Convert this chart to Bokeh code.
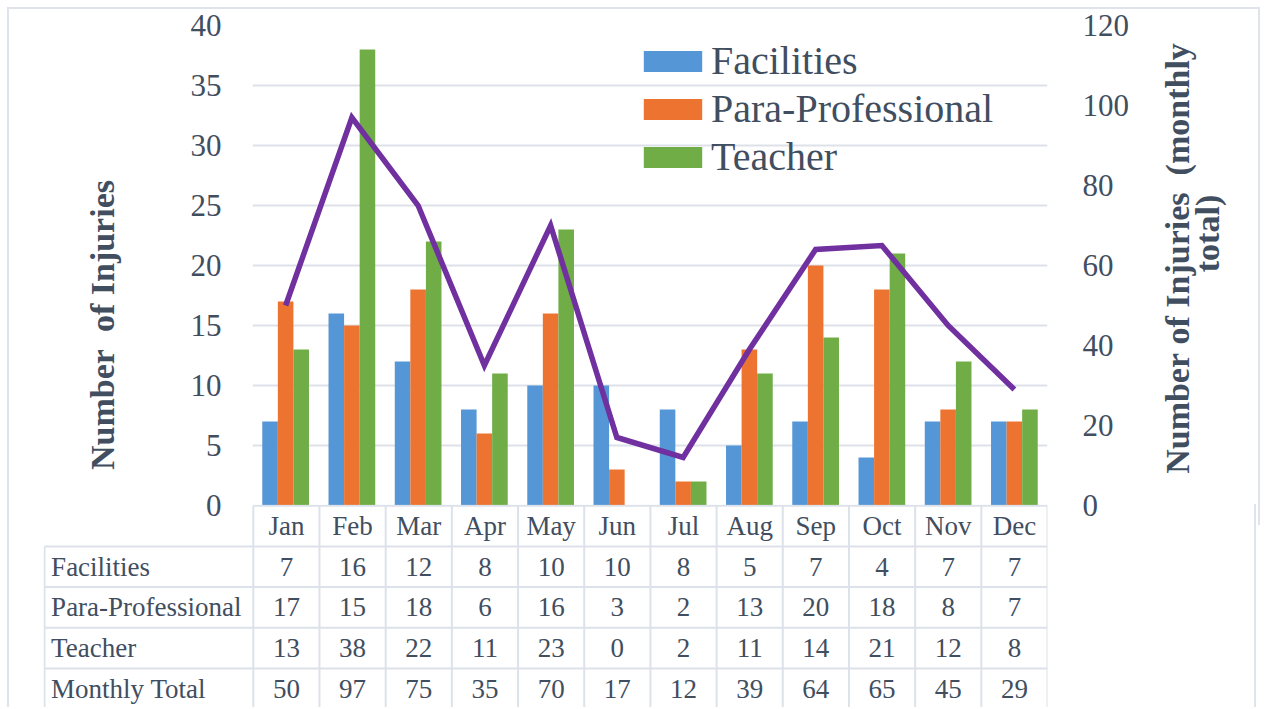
import math
from bokeh.plotting import figure
from bokeh.models import (FactorRange, Range1d, LinearAxis, FixedTicker, Legend,
                          LegendItem, ColumnDataSource)
from bokeh.transform import dodge
from bokeh.layouts import row
from bokeh.embed import file_html
from bokeh.resources import INLINE
from bokeh.core.properties import value

months = ["Jan", "Feb", "Mar", "Apr", "May", "Jun", "Jul", "Aug", "Sep", "Oct", "Nov", "Dec"]
facilities = [7, 16, 12, 8, 10, 10, 8, 5, 7, 4, 7, 7]
para_professional = [17, 15, 18, 6, 16, 3, 2, 13, 20, 18, 8, 7]
teacher = [13, 38, 22, 11, 23, 0, 2, 11, 14, 21, 12, 8]
monthly_total = [50, 97, 75, 35, 70, 17, 12, 39, 64, 65, 45, 29]
series_names = ["Facilities", "Para-Professional", "Teacher"]
row_labels = ["Facilities", "Para-Professional", "Teacher", "Monthly Total"]
left_ticks = [0, 5, 10, 15, 20, 25, 30, 35, 40]
right_ticks = [0, 20, 40, 60, 80, 100, 120]
right_title_lines = ["Number of Injuries  (monthly", "total)"]

SERIF = "Liberation Serif"
TXT = "#414e60"
GRID = "#dde2ea"
FRAME = "2px solid #dfe4ec"
colors = ["#5596d6", "#ec7430", "#70ad47"]
NB = "\u00a0"

src = ColumnDataSource(dict(month=months, fac=facilities, para=para_professional,
                            teach=teacher, total=monthly_total))

p = figure(width=1141, height=516, x_range=FactorRange(*months, range_padding=0),
           y_range=Range1d(0, 40), output_backend="svg", toolbar_location=None,
           x_axis_location=None, min_border_left=243, min_border_right=103,
           min_border_top=16, min_border_bottom=20, outline_line_color=None,
           background_fill_color="white", border_fill_color="white")
p.extra_y_ranges = {"total": Range1d(0, 120)}

p.xgrid.visible = False
p.ygrid.grid_line_color = GRID
p.ygrid.grid_line_width = 2
p.ygrid.ticker = FixedTicker(ticks=left_ticks)

ax = p.yaxis[0]
ax.ticker = FixedTicker(ticks=left_ticks)
ax.axis_line_color = None
ax.major_tick_line_color = None
ax.minor_tick_line_color = None
ax.major_label_standoff = 25
ax.major_label_text_font = SERIF
ax.major_label_text_font_size = "31px"
ax.major_label_text_color = TXT
ax.axis_label = "Number" + NB + NB + "of Injuries" + NB * 14
ax.axis_label_text_font = SERIF
ax.axis_label_text_font_size = "34px"
ax.axis_label_text_font_style = "bold"
ax.axis_label_text_color = TXT
ax.axis_label_standoff = 67

ax2 = LinearAxis(y_range_name="total", ticker=FixedTicker(ticks=right_ticks))
ax2.axis_line_color = None
ax2.major_tick_line_color = None
ax2.minor_tick_line_color = None
ax2.major_label_standoff = 29
ax2.major_label_text_font = SERIF
ax2.major_label_text_font_size = "31px"
ax2.major_label_text_color = TXT
p.add_layout(ax2, "right")

bw = 0.235
r1 = p.vbar(x=dodge("month", -bw, range=p.x_range), top="fac", width=bw, source=src,
            fill_color=colors[0], line_color=None)
r2 = p.vbar(x=dodge("month", 0, range=p.x_range), top="para", width=bw, source=src,
            fill_color=colors[1], line_color=None)
r3 = p.vbar(x=dodge("month", bw, range=p.x_range), top="teach", width=bw, source=src,
            fill_color=colors[2], line_color=None)
p.line(x="month", y="total", y_range_name="total", source=src, line_color="#7030a0",
       line_width=5.5, line_join="miter")

legend = Legend(items=[LegendItem(label=series_names[0], renderers=[r1]),
                       LegendItem(label=series_names[1], renderers=[r2]),
                       LegendItem(label=series_names[2], renderers=[r3])],
                location=(384, 325), orientation="vertical")
legend.label_text_font = SERIF
legend.label_text_font_size = "40px"
legend.label_text_color = TXT
legend.glyph_width = 73
legend.glyph_height = 26
legend.label_standoff = 2
legend.spacing = 1
legend.padding = 0
legend.margin = 0
legend.background_fill_alpha = 0
legend.border_line_alpha = 0
p.add_layout(legend)

# ---- right-hand axis title (rotated, reading upward) ----
tf = figure(width=108, height=516, x_range=Range1d(0, 108),
            y_range=p.extra_y_ranges["total"], output_backend="svg",
            toolbar_location=None, x_axis_location=None, y_axis_location=None,
            min_border_left=0, min_border_right=0, min_border_top=16,
            min_border_bottom=20, outline_line_color=None,
            background_fill_color="white", border_fill_color="white")
tf.grid.visible = False
tf.text(x=[27, 57], y=[61.75, 68], text=[s.replace(" ", NB) for s in right_title_lines],
        angle=math.pi / 2, text_align="center", text_baseline="middle",
        text_font=value(SERIF), text_font_size="34px", text_font_style="bold",
        text_color=TXT)

top = row(p, tf, spacing=0, margin=(7, 0, 0, 7),
          styles={"border-top": FRAME, "border-left": FRAME, "border-right": FRAME})

# ---- data table below ----
ncol = len(months)
label_w = 3.155
t = figure(width=1249, height=203, x_range=Range1d(-label_w - 0.015, ncol),
           y_range=Range1d(4.96, -0.03), output_backend="svg", toolbar_location=None,
           x_axis_location=None, y_axis_location=None, min_border_left=34,
           min_border_right=211, min_border_top=0, min_border_bottom=0,
           outline_line_color=None, background_fill_color=None,
           border_fill_color=None, margin=(-21, 0, 0, 7),
           styles={"border-left": FRAME, "border-right": FRAME})
t.grid.visible = False

nrows = len(row_labels)
vx0 = [i for i in range(ncol + 1)] + [-label_w]
vy0 = [0] * (ncol + 1) + [1]
vy1 = [nrows + 1.5] * (ncol + 2)
t.segment(x0=vx0, y0=vy0, x1=vx0, y1=vy1, line_color=GRID, line_width=2)
hy = [0] + [i for i in range(1, nrows + 1)]
hx0 = [0] + [-label_w] * nrows
hx1 = [ncol] * (nrows + 1)
t.segment(x0=hx0, y0=hy, x1=hx1, y1=hy, line_color=GRID, line_width=2)

FS = "27px"
cx = [i + 0.5 for i in range(ncol)]
t.text(x=cx, y=[0.5] * ncol, text=months, text_align="center", text_baseline="middle",
       text_font=value(SERIF), text_font_size=FS, text_color=TXT)
for r, vals in enumerate([facilities, para_professional, teacher, monthly_total]):
    t.text(x=cx, y=[r + 1.5] * ncol, text=[str(v) for v in vals], text_align="center",
           text_baseline="middle", text_font=value(SERIF), text_font_size=FS,
           text_color=TXT)
t.text(x=[-label_w + 0.1] * nrows, y=[r + 1.5 for r in range(nrows)], text=row_labels,
       text_align="left", text_baseline="middle", text_font=value(SERIF),
       text_font_size=FS, text_color=TXT)

open("out.html", "w").write(file_html([top, t], INLINE))
